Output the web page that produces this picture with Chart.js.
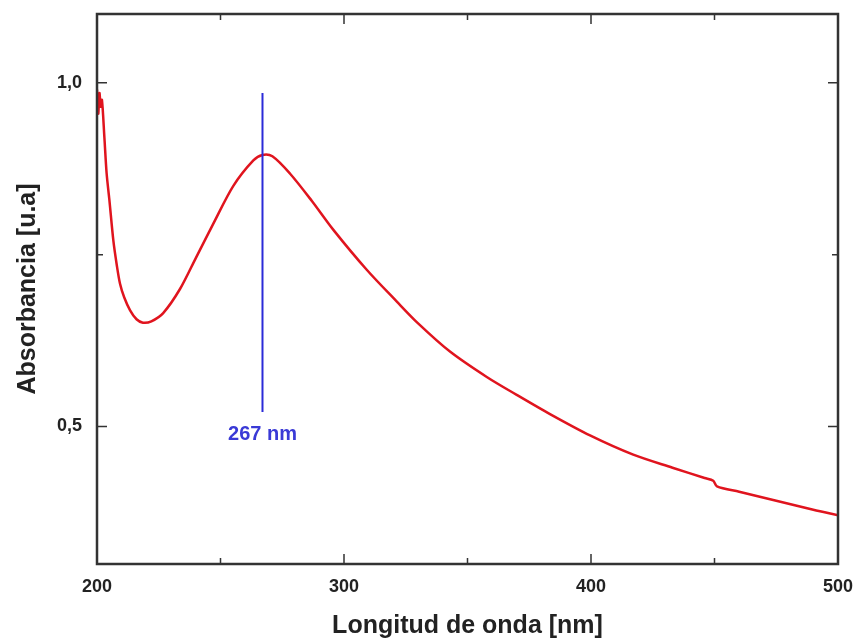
<!DOCTYPE html>
<html>
<head>
<meta charset="utf-8">
<script src="https://cdn.jsdelivr.net/npm/chart.js@4/dist/chart.umd.min.js"></script>
<style>
  html, body { margin: 0; padding: 0; background: #ffffff; }
  canvas { display: block; }
</style>
</head>
<body>
<canvas id="c" width="859" height="641"></canvas>
<script>
// ---- data ----
const wavelength = [200, 200.5, 201, 201.5, 202, 203, 203.9, 205, 206.6, 208, 209.3, 211, 213.4, 216, 218.6, 222, 226.8, 233.6, 240, 247.1, 255.2, 263.3, 267, 271, 278.1, 287, 295.7, 309.2, 321.3, 330, 342.9, 357.8, 369.9, 383.4, 399.6, 417.1, 433, 446, 449.5, 451, 460, 475, 490, 500];
const absorbance = [0.99, 0.955, 0.985, 0.965, 0.975, 0.92, 0.868, 0.83, 0.771, 0.735, 0.708, 0.688, 0.669, 0.656, 0.651, 0.653, 0.665, 0.700, 0.745, 0.795, 0.850, 0.887, 0.895, 0.893, 0.868, 0.828, 0.786, 0.728, 0.682, 0.650, 0.609, 0.572, 0.546, 0.518, 0.487, 0.459, 0.440, 0.425, 0.421, 0.413, 0.405, 0.392, 0.379, 0.371];

const peakNm = 267;
const peakLineValues = [0.985, 0.521];
const peakLabel = '267 nm';
const peakLabelValue = 0.489;

const xTicks = [200, 300, 400, 500];
const xMinorTicks = [250, 350, 450];
const yTicks = [0.5, 1.0];
const yMinorTicks = [0.75];

const xTitle = 'Longitud de onda [nm]';
const yTitle = 'Absorbancia [u.a]';

const FONT = '"Liberation Sans", Arial, sans-serif';
const AXIS_COLOR = '#333333';

const framePlugin = {
  id: 'frame',
  afterDraw(chart) {
    const { ctx, chartArea: { left, right, top, bottom }, scales: { x, y } } = chart;
    ctx.save();
    ctx.strokeStyle = AXIS_COLOR;
    ctx.lineWidth = 2.5;
    ctx.strokeRect(left, top, right - left, bottom - top);
    ctx.lineWidth = 1.5;
    const tick = (vals, len, horizontal) => {
      vals.forEach(v => {
        ctx.beginPath();
        if (horizontal) {
          const px = x.getPixelForValue(v);
          ctx.moveTo(px, bottom); ctx.lineTo(px, bottom - len);
          ctx.moveTo(px, top); ctx.lineTo(px, top + len);
        } else {
          const py = y.getPixelForValue(v);
          ctx.moveTo(left, py); ctx.lineTo(left + len, py);
          ctx.moveTo(right, py); ctx.lineTo(right - len, py);
        }
        ctx.stroke();
      });
    };
    tick(xTicks, 10, true);
    tick(xMinorTicks, 6, true);
    tick(yTicks, 10, false);
    tick(yMinorTicks, 6, false);
    // peak label
    ctx.fillStyle = '#3a3ad6';
    ctx.font = 'bold 20px ' + FONT;
    ctx.textAlign = 'center';
    ctx.textBaseline = 'middle';
    ctx.fillText(peakLabel, x.getPixelForValue(peakNm), y.getPixelForValue(peakLabelValue));
    ctx.restore();
  }
};

const noOverhang = s => { s.paddingTop = 0; s.paddingBottom = 0; s.paddingLeft = 0; s.paddingRight = 0; };

new Chart(document.getElementById('c'), {
  type: 'scatter',
  data: {
    datasets: [
      {
        data: wavelength.map((w, i) => ({ x: w, y: absorbance[i] })),
        showLine: true,
        borderColor: '#e0141e',
        borderWidth: 2.5,
        pointRadius: 0,
        tension: 0.3,
        order: 2
      },
      {
        data: peakLineValues.map(v => ({ x: peakNm, y: v })),
        showLine: true,
        borderColor: '#2b2bd8',
        borderWidth: 2,
        pointRadius: 0,
        order: 1
      }
    ]
  },
  options: {
    responsive: false,
    animation: false,
    devicePixelRatio: 1,
    layout: { padding: { top: 14, right: 21, left: 0, bottom: 0 } },
    plugins: { legend: { display: false }, tooltip: { enabled: false } },
    scales: {
      x: {
        type: 'linear',
        min: 200, max: 500,
        afterBuildTicks: s => { s.ticks = xTicks.map(v => ({ value: v })); },
        afterFit: s => { s.height = 77; noOverhang(s); },
        grid: { display: false, drawTicks: false },
        border: { display: false },
        ticks: { color: '#222', font: { family: FONT, size: 18, weight: 'bold' }, padding: 12, maxRotation: 0 },
        title: { display: true, text: xTitle, color: '#222', font: { family: FONT, size: 25, weight: 'bold' }, padding: { top: 0, bottom: 0 } }
      },
      y: {
        type: 'linear',
        min: 0.3, max: 1.1,
        afterBuildTicks: s => { s.ticks = yTicks.map(v => ({ value: v })); },
        afterFit: s => { s.width = 97; noOverhang(s); },
        grid: { display: false, drawTicks: false },
        border: { display: false },
        ticks: { color: '#222', font: { family: FONT, size: 18, weight: 'bold' }, padding: 15,
                 callback: v => v.toFixed(1).replace('.', ',') },
        title: { display: true, text: yTitle, color: '#222', font: { family: FONT, size: 25, weight: 'bold' }, padding: { top: 13, bottom: 0 } }
      }
    }
  },
  plugins: [framePlugin]
});
</script>
</body>
</html>
